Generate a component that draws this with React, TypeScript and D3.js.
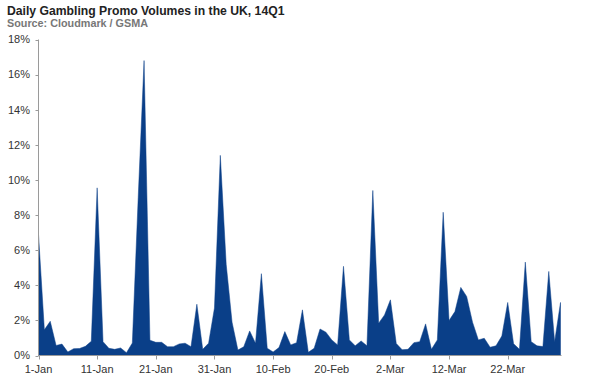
import React from "react";
import * as d3 from "d3";

const title = "Daily Gambling Promo Volumes in the UK, 14Q1";
const subtitle = "Source: Cloudmark / GSMA";

// Daily share (%) from 1-Jan (index 0) to 31-Mar (index 89)
const values: number[] = [
  6.9, 1.46, 1.95, 0.57, 0.65, 0.2, 0.39, 0.4, 0.52, 0.81,
  9.55, 0.79, 0.41, 0.35, 0.43, 0.16, 0.71, 9.0, 16.8, 0.87,
  0.75, 0.75, 0.5, 0.5, 0.66, 0.7, 0.5, 2.92, 0.35, 0.7,
  2.7, 11.4, 5.2, 1.9, 0.31, 0.5, 1.4, 0.7, 4.66, 0.41,
  0.2, 0.45, 1.36, 0.6, 0.73, 2.6, 0.18, 0.41, 1.51, 1.33,
  0.89, 0.6, 5.08, 0.89, 0.55, 0.83, 0.55, 9.4, 1.84, 2.31,
  3.17, 0.68, 0.33, 0.35, 0.73, 0.79, 1.8, 0.35, 0.89, 8.16,
  1.99, 2.5, 3.88, 3.36, 1.9, 0.89, 0.98, 0.47, 0.55, 1.11,
  3.02, 0.67, 0.35, 5.32, 0.79, 0.55, 0.51, 4.79, 0.79, 3.02,
];

const xTickIndex: number[] = [0, 10, 20, 30, 40, 50, 60, 70, 80];
const xTickLabels: string[] = [
  "1-Jan", "11-Jan", "21-Jan", "31-Jan", "10-Feb", "20-Feb", "2-Mar", "12-Mar", "22-Mar",
];
const yTicks: number[] = [0, 2, 4, 6, 8, 10, 12, 14, 16, 18];

const W = 590;
const H = 384;
const left = 38.5;
const right = 560.5;
const top = 39.5;
const bottom = 355.5;

export default function App() {
  const x = d3.scaleLinear().domain([0, values.length - 1]).range([left, right]);
  const y = d3.scaleLinear().domain([0, 18]).range([bottom, top]);
  const area = d3
    .area<number>()
    .x((_, i) => x(i))
    .y0(y(0))
    .y1((d) => y(d));
  const font = "'Liberation Sans', Arial, Helvetica, sans-serif";
  const axisColor = "#9a9a9a";
  const textColor = "#333";
  return (
    <svg
      width={W}
      height={H}
      style={{ position: "absolute", left: 0, top: 0, background: "#fff" }}
      fontFamily={font}
    >
      <text x={7} y={15} fontSize={12.2} fontWeight="bold" fill="#222">
        {title}
      </text>
      <text x={7} y={27} fontSize={10.8} fontWeight="bold" fill="#777">
        {subtitle}
      </text>
      <path d={area(values) || ""} fill="#0a3f88" stroke="#0a3f88" strokeWidth={0.5} strokeLinejoin="miter" />
      <line x1={left} x2={left} y1={top} y2={bottom} stroke={axisColor} strokeWidth={1} />
      <line x1={left} x2={right + 1} y1={bottom} y2={bottom} stroke={axisColor} strokeWidth={1} />
      {yTicks.map((t) => (
        <g key={t}>
          <line x1={left - 3} x2={left} y1={Math.round(y(t)) + 0.5} y2={Math.round(y(t)) + 0.5} stroke={axisColor} />
          <text
            x={30}
            y={y(t)}
            dy="0.35em"
            textAnchor="end"
            fontSize={11}
            fill={textColor}
          >
            {t + "%"}
          </text>
        </g>
      ))}
      {xTickIndex.map((t, i) => (
        <g key={t}>
          <line
            x1={Math.round(x(t)) + 0.5}
            x2={Math.round(x(t)) + 0.5}
            y1={bottom}
            y2={bottom + 4}
            stroke={axisColor}
          />
          <text x={x(t)} y={373} textAnchor="middle" fontSize={11} fill={textColor}>
            {xTickLabels[i]}
          </text>
        </g>
      ))}
    </svg>
  );
}
